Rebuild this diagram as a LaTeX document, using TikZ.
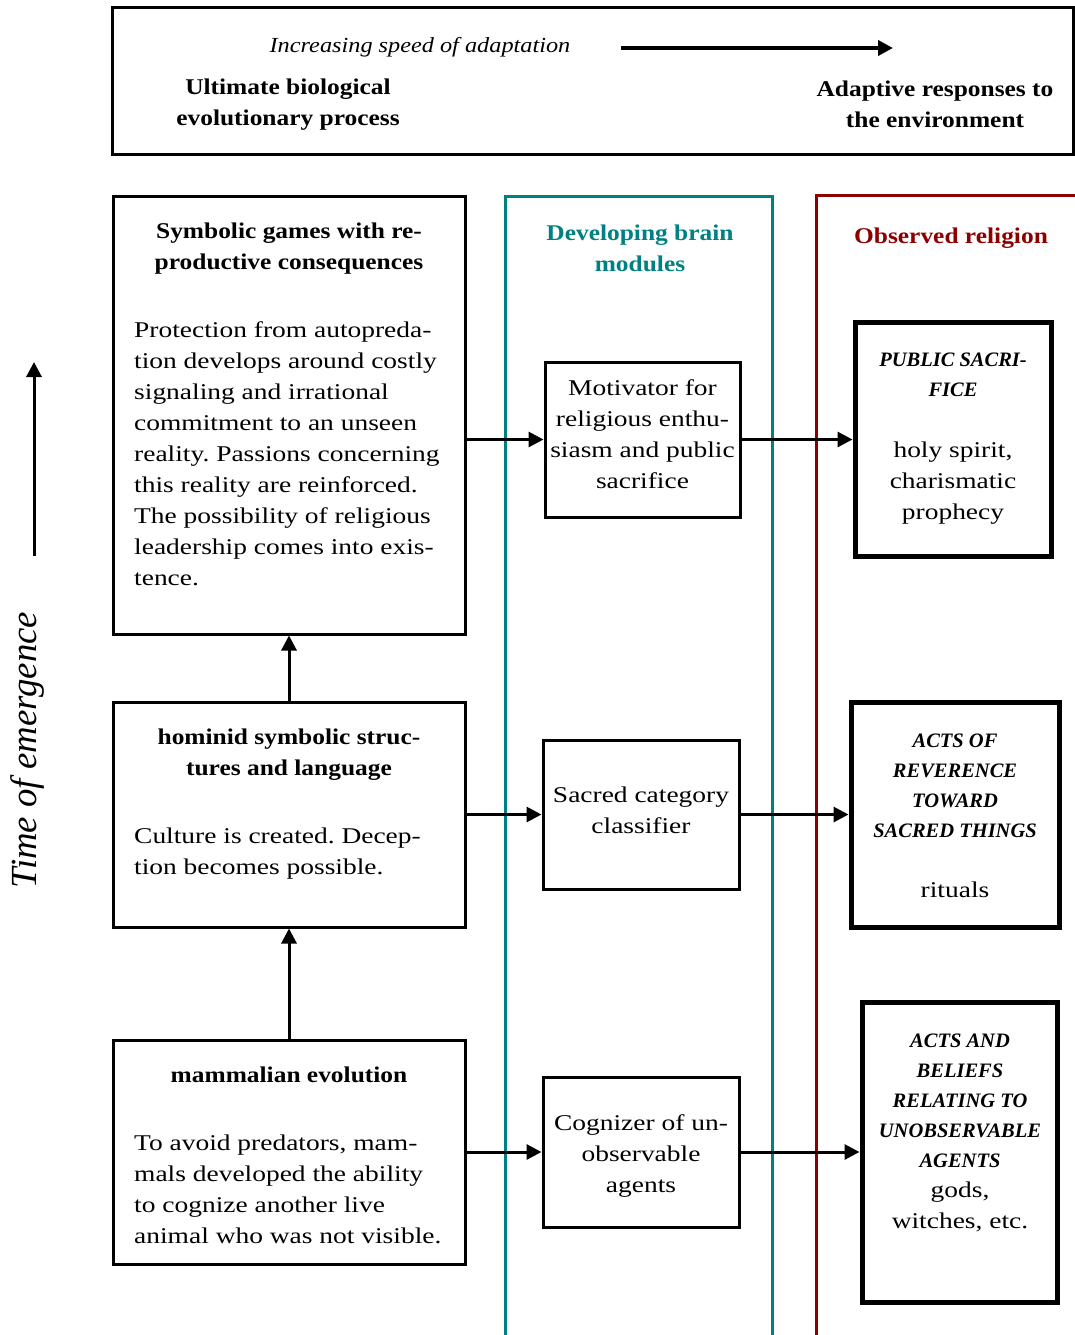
\documentclass[tikz,border=0pt]{standalone}
\usepackage{fontspec}
\setmainfont{Liberation Serif}
\newfontfamily\bodyfont[FakeStretch=1.22]{Liberation Serif}
\newfontfamily\headfont[FakeStretch=1.13]{Liberation Serif}
\usetikzlibrary{arrows.meta}
\definecolor{tealc}{RGB}{0,128,128}
\definecolor{redc}{RGB}{140,0,0}
\newcommand\mystrut{\rule{0pt}{17pt}}
\frenchspacing
\begin{document}
\begin{tikzpicture}[x=1pt,y=-1pt,
 box/.style={draw, line width=3pt, inner sep=0pt, rectangle},
 rbox/.style={draw, line width=5pt, inner sep=0pt, rectangle},
 conn/.style={line width=3pt, -{Triangle[length=15pt,width=15pt]}},
 body/.style={inner sep=0pt, anchor=north, align=center, font=\bodyfont\fontsize{22.5}{31}\selectfont},
 lbody/.style={inner sep=0pt, anchor=north west, align=left, font=\bodyfont\fontsize{22.5}{31}\selectfont},
 head/.style={inner sep=0pt, anchor=north, align=center, font=\headfont\bfseries\fontsize{22.5}{31}\selectfont},
 caps/.style={inner sep=0pt, anchor=north, align=center, font=\bfseries\itshape\fontsize{20.5}{30}\selectfont},
]
\useasboundingbox (0,0) rectangle (1075,1335);

% top box
\node[box, minimum width=961pt, minimum height=146pt] (top) at (592.5,81) {};
\node[inner sep=0pt, anchor=north, font=\headfont\itshape\fontsize{21.5}{31}\selectfont] (inc) at (420,35) {\mystrut Increasing speed of adaptation};
\coordinate (s0) at (621,48);
\coordinate (s1) at (893,48);
\draw[line width=4pt, -{Triangle[length=15pt,width=15pt]}] (s0) -- (s1);
\node[head] (ult) at (288,77) {\mystrut Ultimate biological\\evolutionary process};
\node[head] (ada) at (935,79) {\mystrut Adaptive responses to\\the environment};

% time arrow
\coordinate (t0) at (34,556);
\coordinate (t1) at (34,362);
\draw[conn] (t0) -- (t1);
\node[inner sep=0pt, rotate=90, font=\itshape\fontsize{36.8}{40}\selectfont] (time) at (27,750) {Time of emergence};

% columns
\draw[tealc, line width=3pt] (505,1345) -- (505,196) -- (772,196) -- (772,1345);
\draw[redc, line width=3pt] (816,1345) -- (816,195) -- (1090,195);
\node[head, text=tealc] (tealtitle) at (640,223) {\mystrut Developing brain\\modules};
\node[head, text=redc] (redtitle) at (951,226) {\mystrut Observed religion};

% left boxes
\node[box, minimum width=352pt, minimum height=438pt] (A) at (289,415) {};
\node[box, minimum width=352pt, minimum height=225pt] (B) at (289,814.5) {};
\node[box, minimum width=352pt, minimum height=224pt] (C) at (289,1152) {};

\node[head] (Ah) at (289,221) {\mystrut Symbolic games with re-\\productive consequences};
\node[lbody] (Ab) at (134,320) {\mystrut Protection from autopreda-\\tion develops around costly\\signaling and irrational\\commitment to an unseen\\reality. Passions concerning\\this reality are reinforced.\\The possibility of religious\\leadership comes into exis-\\tence.};
\node[head] (Bh) at (289,727) {\mystrut hominid symbolic struc-\\tures and language};
\node[lbody] (Bb) at (134,826) {\mystrut Culture is created. Decep-\\tion becomes possible.};
\node[head] (Ch) at (289,1065) {\mystrut mammalian evolution};
\node[lbody] (Cb) at (134,1133) {\mystrut To avoid predators, mam-\\mals developed the ability\\to cognize another live\\animal who was not visible.};

% middle boxes
\node[box, minimum width=195pt, minimum height=155pt] (M1) at (642.5,439.5) {};
\node[box, minimum width=196pt, minimum height=149pt] (M2) at (641,814.5) {};
\node[box, minimum width=196pt, minimum height=150pt] (M3) at (641,1152) {};
\node[body] (M1t) at (642.5,378) {\mystrut Motivator for\\religious enthu-\\siasm and public\\sacrifice};
\node[body] (M2t) at (641,785) {\mystrut Sacred category\\classifier};
\node[body] (M3t) at (641,1113) {\mystrut Cognizer of un-\\observable\\agents};

% right boxes
\node[rbox, minimum width=196pt, minimum height=234pt] (R1) at (953,439) {};
\node[rbox, minimum width=208pt, minimum height=225pt] (R2) at (955,814.5) {};
\node[rbox, minimum width=195pt, minimum height=300pt] (R3) at (959.5,1152) {};
\node[caps] (R1c) at (953,349) {\mystrut PUBLIC SACRI-\\FICE};
\node[body] (R1t) at (953,440) {\mystrut holy spirit,\\charismatic\\prophecy};
\node[caps] (R2c) at (955,730) {\mystrut ACTS OF\\REVERENCE\\TOWARD\\SACRED THINGS};
\node[body] (R2t) at (955,880) {\mystrut rituals};
\node[caps] (R3c) at (960,1030) {\mystrut ACTS AND\\BELIEFS\\RELATING TO\\UNOBSERVABLE\\AGENTS};
\node[body] (R3t) at (960,1180) {\mystrut gods,\\witches, etc.};

% connectors
\draw[conn] (C.north) -- (B.south);
\draw[conn] (B.north) -- (A.south);
\draw[conn] (A.east |- M1.west) -- (M1.west);
\draw[conn] (B.east |- M2.west) -- (M2.west);
\draw[conn] (C.east |- M3.west) -- (M3.west);
\draw[conn] (M1.east) -- (R1.west |- M1.east);
\draw[conn] (M2.east) -- (R2.west |- M2.east);
\draw[conn] (M3.east) -- (R3.west |- M3.east);
\end{tikzpicture}
\end{document}
